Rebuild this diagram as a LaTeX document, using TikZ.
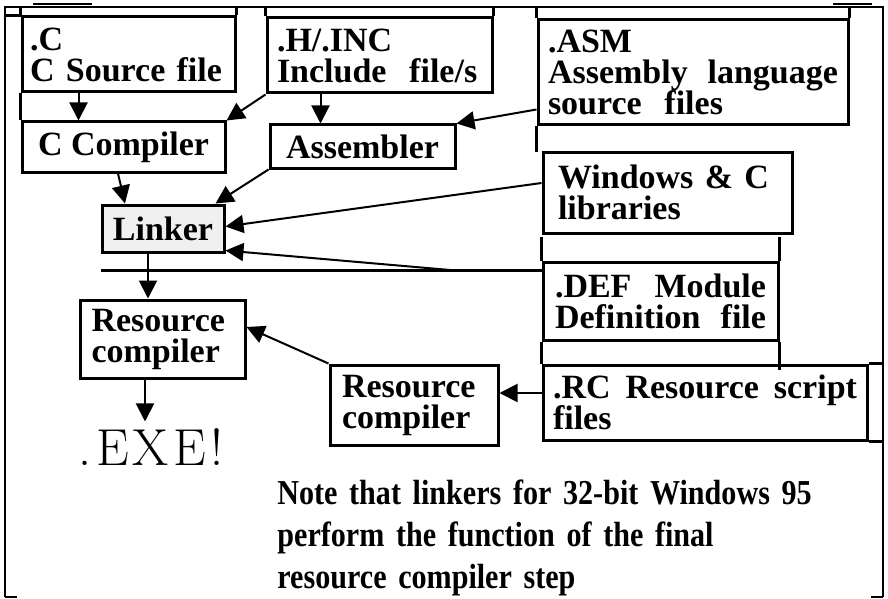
\documentclass[tikz,border=0pt]{standalone}
\usepackage{fontspec}
\usepackage{tikz}
\usetikzlibrary{arrows.meta,calc,positioning}
\newfontfamily\timesfont{Liberation Serif}
\newfontfamily\notefont[FakeStretch=0.86]{Liberation Serif}
\newcommand{\boxfont}{\timesfont\bfseries\fontsize{17}{15.5}\selectfont\lineskiplimit=-20pt\relax}
\newcommand{\notestyle}{\notefont\bfseries\fontsize{17.5}{21}\selectfont\lineskiplimit=-20pt\relax}
\tikzset{
  filebox/.style={draw,line width=1.5pt,align=left,inner xsep=5pt,inner ysep=0pt,font=\boxfont},
  arr/.style={line width=1pt,-{Triangle[length=9pt,width=9pt]}},
  frame/.style={line width=1pt},
  rule/.style={line width=1.5pt},
}

\begin{document}
\begin{tikzpicture}[x=0.5pt,y=-0.5pt]
    \useasboundingbox (0,0) rectangle (888,599);
    % outer frame
    \coordinate (top) at (0,7);
    \coordinate (rgt) at (883,0);
    \draw[frame] (5,597) -- (5,7) -- (883,7) -- (883,597);
    \draw[frame] (5,597) -- (17,597);
    \draw[frame] (871,597) -- (883,597);
    \draw[line width=0.6pt] (33,4) -- (92,4);
    \draw[line width=0.6pt] (833,4) -- (872,4);

    % source files
    \node[filebox,text width=98.5pt,inner xsep=4pt,minimum height=37.5pt] (cSrc) at (128.5,54.5) {.C\\C~Source~file};
    \node[filebox,text width=102.5pt,minimum height=37.5pt] (hInc) at (379.5,55.5) {.H/.INC\\Include~~file/s};
    \node[filebox,text width=145pt,minimum height=52.5pt] (asmSrc) at (693,72.5) {.ASM\\Assembly\hfill language\\source~~files};
    \foreach \n in {cSrc.north west,cSrc.north east,hInc.north west,hInc.north east,asmSrc.north west,asmSrc.north east}
        \draw[rule] (\n) -- (\n |- top);
    \draw[rule] (cSrc.north west) -- (cSrc.north west -| 5,0);

    % compilers
    \node[filebox,minimum width=101.5pt,minimum height=25pt] (cComp) at (123.5,147) {C~Compiler};
    \node[filebox,minimum width=92.5pt,minimum height=21.5pt] (asmb) at (362.5,146.5) {Assembler};
    \draw[rule] (cSrc.south west) -- (cComp.north west);
    \draw[rule] (asmSrc.south west) -- ++(0,25);

    % linker
    \node[filebox,fill=black!6,minimum width=61pt,minimum height=23.5pt] (link) at (163,228.5) {Linker};

    % libraries and module definition
    \node[filebox,text width=109.5pt,inner xsep=7.5pt,minimum height=40.5pt] (winLib) at (667.5,192.5) {Windows~\&~C\\libraries};
    \node[filebox,text width=105.5pt,inner xsep=6pt,minimum height=39pt] (defFile) at (660.5,301) {.DEF\hfill Module\\Definition\hfill file};
    \node[filebox,text width=152pt,minimum height=37.5pt] (rcFile) at (705,402.5) {.RC\hfill Resource\hfill script\\files};
    \draw[rule] (defFile.north west) -- ++(0,-24);
    \draw[rule] (defFile.north east) -- ++(0,-24);
    \draw[rule] (defFile.south west) -- (rcFile.north west);
    \draw[rule] (defFile.south east) -- ++(0,28);
    \draw[rule] (rcFile.north east) -- (rcFile.north east -| rgt);
    \draw[rule] (rcFile.south east) -- (rcFile.south east -| rgt);

    % resource compilers
    \node[filebox,text width=72pt,inner xsep=6pt,minimum height=40pt] (rcR) at (414,405) {Resource\\compiler};
    \node[filebox,text width=71pt,inner xsep=5.75pt,minimum height=39pt] (rcL) at (162.5,339) {Resource\\compiler};
    \node[font=\fontsize{26}{26}\selectfont] (exe) at (151,447) {.\kern2.5pt E\kern2pt X\kern2pt E\kern2.5pt!};

    % bus under linker
    \coordinate (busL) at (link.south west |- 0,270);
    \coordinate (busJ) at (450,270);
    \draw[rule] (busL) -- (busL -| defFile.west);

    % arrows
    \draw[arr] ([xshift=29pt]cSrc.south west) -- ([xshift=29pt]cSrc.south west |- cComp.north);
    \draw[arr] (hInc.south west) -- (cComp.north east);
    \draw[arr] ([xshift=27.5pt]hInc.south west) -- ([xshift=27.5pt]hInc.south west |- asmb.north);
    \draw[arr] ([yshift=8.5pt]asmSrc.south west) -- (asmb.north east);
    \draw[arr] ([xshift=-2.75pt]cComp.south) -- ([xshift=-19pt]link.north);
    \draw[arr] (asmb.south west) -- ([xshift=-5pt]link.north east);
    \draw[arr] ([yshift=4.75pt]winLib.west) -- ([yshift=1pt]link.east);
    \draw[arr] (busL -| defFile.west) -- (busJ) -- ([yshift=1.5pt]link.south east);
    \draw[arr] ([xshift=-7.5pt]link.south) -- ([xshift=-7.5pt]link.south |- rcL.north);
    \draw[arr] ([xshift=-8.75pt]rcL.south) -- ([xshift=-8.75pt]rcL.south |- exe.north);
    \draw[arr] (rcR.north west) -- ([yshift=6pt]rcL.east);
    \draw[arr] ([yshift=4.75pt]rcFile.west) -- ([yshift=4.75pt]rcFile.west -| rcR.east);

    % note
    \node[anchor=north west,align=left,text width=290pt,inner sep=0pt,font=\notestyle] (note) at (277,479)
        {Note that linkers for 32-bit Windows 95\\perform the function of the final\\resource compiler step};
\end{tikzpicture}
\end{document}
